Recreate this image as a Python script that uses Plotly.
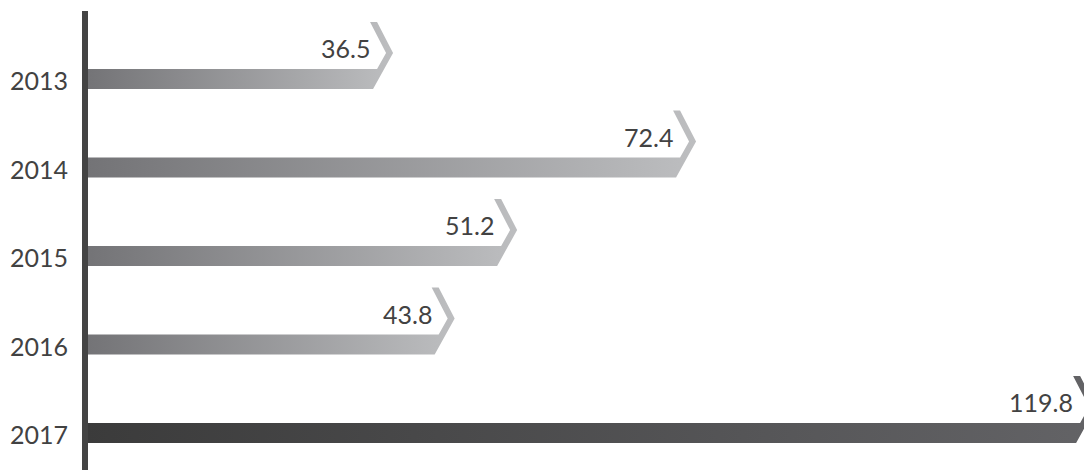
import plotly.graph_objects as go

years = ["2013", "2014", "2015", "2016", "2017"]
values = [36.5, 72.4, 51.2, 43.8, 119.8]
highlight = [False, False, False, False, True]

W, H = 1084, 470
PX_PER_UNIT = 8.44      # horizontal scale (pixels per value unit)
ROW_PX = 88.5           # vertical spacing between rows in pixels
X0_PX = 85              # pixel position of value 0
ROW0_PX = 79            # pixel centre of first row

x_range = [-X0_PX / PX_PER_UNIT, (W - X0_PX) / PX_PER_UNIT]
y_top = -ROW0_PX / ROW_PX
y_range = [y_top + H / ROW_PX, y_top]

FONT = dict(family="Lato, DejaVu Sans", size=25, color="#424242")


def dx(px):
    return px / PX_PER_UNIT


def dy(px):
    return px / ROW_PX


fig = go.Figure()

for i, (yr, v, hl) in enumerate(zip(years, values, highlight)):
    xs = [0, v - dx(16), v - dx(7), v - dx(23), v - dx(16), v, v - dx(20), 0, 0]
    ys = [i - dy(10), i - dy(10), i - dy(26), i - dy(57), i - dy(57),
          i - dy(26), i + dy(10), i + dy(10), i - dy(10)]
    if hl:
        cs = [[0, "#3b3b3b"], [1, "#636366"]]
    else:
        cs = [[0, "#737376"], [1, "#bdbec0"]]
    fig.add_trace(go.Scatter(
        x=xs, y=ys, mode="lines", fill="toself",
        line=dict(width=0, color="rgba(0,0,0,0)"),
        fillcolor=cs[1][1],
        fillgradient=dict(type="horizontal", colorscale=cs),
        hoverinfo="skip", showlegend=False,
    ))
    fig.add_annotation(
        x=v - dx(21), y=i, xref="x", yref="y", text=f"{v:.1f}",
        xanchor="right", yanchor="middle", yshift=31,
        showarrow=False, font=FONT,
    )
    fig.add_annotation(
        x=0, y=i, xref="x", yref="y", text=yr,
        xanchor="right", yanchor="middle", xshift=-15, yshift=-1,
        showarrow=False, font=FONT,
    )

fig.add_shape(type="line", xref="x", yref="paper", x0=0, x1=0,
              y0=0, y1=(H - 11) / H, line=dict(color="#444444", width=6),
              layer="above")

fig.update_layout(
    width=W, height=H,
    margin=dict(l=0, r=0, t=0, b=0),
    paper_bgcolor="white", plot_bgcolor="white",
    xaxis=dict(range=x_range, visible=False, fixedrange=True),
    yaxis=dict(range=y_range, visible=False, fixedrange=True),
)

fig.write_html("out.html")
